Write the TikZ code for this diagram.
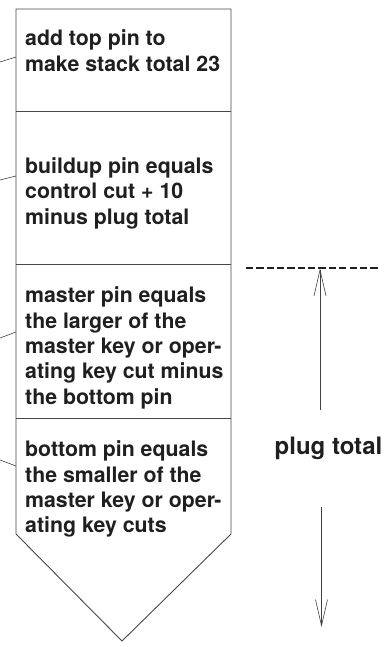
\documentclass[tikz,border=0pt]{standalone}
\usepackage{fontspec}
\setmainfont{TeX Gyre Heros}
\usetikzlibrary{arrows.meta}
\newcommand\stacktext[1]{\parbox[t]{206pt}{\raggedright #1}}
\begin{document}
\begin{tikzpicture}[x=1pt,y=-1pt,
  outline/.style={draw=black!72, line width=0.9pt, line join=miter},
  leader/.style={draw=black!80, line width=0.55pt},
  boxtext/.style={anchor=base west, inner sep=0pt, text=black!88,
    font=\bfseries\fontsize{21.3}{25.4}\selectfont},
  dimline/.style={draw=black!75, line width=0.6pt, -{Straight Barb[length=26pt,width=12pt,line width=0.6pt]}},
  dashline/.style={draw=black!88, line width=2.3pt, dash pattern=on 7.3pt off 3.05pt}
]
\useasboundingbox (0,0) rectangle (385,647);
% stack outline
\coordinate (tl) at (16,9);
\coordinate (tr) at (231,9);
\coordinate (bl) at (16,534);
\coordinate (br) at (231,534);
\coordinate (tip) at (122,641);
\draw[outline] (tl) -- (tr) -- (br) -- (tip) -- (bl) -- cycle;
\coordinate (d1l) at (16,111);  \coordinate (d1r) at (231,111);
\coordinate (d2l) at (16,264);  \coordinate (d2r) at (231,264);
\coordinate (d3l) at (16,418);  \coordinate (d3r) at (231,418);
\draw[outline] (d1l) -- (d1r);
\draw[outline] (d2l) -- (d2r);
\draw[outline] (d3l) -- (d3r);
% texts
\node[boxtext] (t1) at (25,45.7) {\stacktext{add top pin to\\make stack total 23}};
\node[boxtext] (t2) at (25,173.3) {\stacktext{buildup pin equals\\control cut + 10\\minus plug total}};
\node[boxtext] (t3) at (25,302.7) {\stacktext{master pin equals\\the larger of the\\master key or oper-\\ating key cut minus\\the bottom pin}};
\node[boxtext] (t4) at (25,456.7) {\stacktext{bottom pin equals\\the smaller of the\\master key or oper-\\ating key cuts}};
% leader lines
\coordinate (a1) at (16,57);  \coordinate (b1) at (0,62);
\coordinate (a2) at (16,176); \coordinate (b2) at (0,180);
\coordinate (a3) at (16,332); \coordinate (b3) at (0,338);
\coordinate (a4) at (16,466); \coordinate (b4) at (0,460);
\draw[leader] (a1) -- (b1);
\draw[leader] (a2) -- (b2);
\draw[leader] (a3) -- (b3);
\draw[leader] (a4) -- (b4);
% plug total dimension
\coordinate (ds) at (246,268);
\coordinate (de) at (380,268);
\draw[dashline] (ds) -- (de);
\node[anchor=base west, inner sep=0pt, text=black!88, font=\bfseries\fontsize{24}{28}\selectfont] (pt) at (274.5,454) {plug total};
\coordinate (up0) at (320,410);
\coordinate (up1) at (320,268.5);
\coordinate (dn0) at (321.5,507);
\coordinate (dn1) at (321.5,627);
\draw[dimline] (up0) -- (up1);
\draw[dimline] (dn0) -- (dn1);
\end{tikzpicture}
\end{document}
